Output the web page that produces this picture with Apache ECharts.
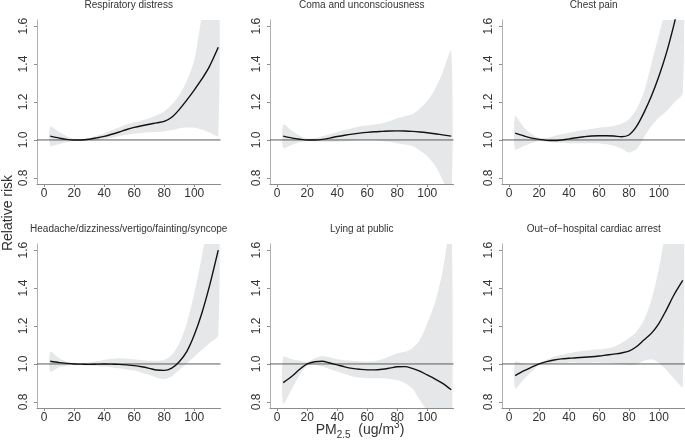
<!DOCTYPE html>
<html>
<head>
<meta charset="utf-8">
<script src="https://cdn.jsdelivr.net/npm/echarts@6/dist/echarts.min.js"></script>
<style>
html,body{margin:0;padding:0;background:#fff;}
#c{width:685px;height:445px;}
</style>
</head>
<body>
<div id="c"></div>
<script>
// ---- data ----
const pm25 = [4,10,15,20,25,30,35,40,45,50,55,60,65,70,75,80,85,90,95,100,105,110,116];
const panelTitles = ['Respiratory distress','Coma and unconsciousness','Chest pain',
  'Headache/dizziness/vertigo/fainting/syncope','Lying at public','Out\u2212of\u2212hospital cardiac arrest'];
const xTicks = [0,20,40,60,80,100];
const yTicks = [0.8,1.0,1.2,1.4,1.6];
const refRisk = 1.0;

const respFit  = [1.020,1.010,1.003,1.000,1.000,1.004,1.011,1.019,1.030,1.042,1.055,1.066,1.075,1.083,1.090,1.098,1.120,1.160,1.210,1.263,1.320,1.385,1.488];
const respHigh = [1.070,1.042,1.020,1.005,1.004,1.010,1.022,1.036,1.052,1.067,1.081,1.093,1.103,1.115,1.130,1.150,1.185,1.235,1.310,1.420,1.650,1.850,2.050];
const respLow  = [0.969,0.979,0.988,0.995,0.996,0.997,1.000,1.005,1.012,1.020,1.027,1.033,1.037,1.040,1.042,1.045,1.052,1.062,1.066,1.065,1.055,1.040,1.022];

const comaFit  = [1.020,1.010,1.004,1.000,1.000,1.003,1.010,1.018,1.025,1.031,1.036,1.040,1.043,1.045,1.047,1.048,1.047,1.045,1.042,1.038,1.033,1.027,1.020];
const comaHigh = [1.082,1.047,1.022,1.007,1.010,1.020,1.030,1.042,1.053,1.063,1.071,1.077,1.082,1.088,1.100,1.115,1.125,1.135,1.165,1.205,1.265,1.350,1.470];
const comaLow  = [0.958,0.975,0.988,0.995,0.993,0.990,0.990,0.991,0.993,0.996,0.998,1.000,0.999,0.995,0.990,0.983,0.976,0.968,0.945,0.916,0.868,0.795,0.700];

const chestFit  = [1.036,1.021,1.010,1.003,0.998,0.997,1.000,1.006,1.012,1.017,1.021,1.022,1.022,1.021,1.017,1.026,1.070,1.143,1.230,1.334,1.456,1.604,1.800];
const chestHigh = [1.125,1.064,1.032,1.012,1.012,1.021,1.030,1.038,1.046,1.052,1.058,1.064,1.068,1.073,1.085,1.108,1.160,1.250,1.400,1.550,1.700,1.850,2.000];
const chestLow  = [0.951,0.969,0.984,0.995,0.990,0.986,0.984,0.983,0.983,0.983,0.983,0.983,0.978,0.969,0.955,0.934,0.951,1.012,1.073,1.117,1.151,1.195,1.247];

const headFit  = [1.014,1.007,1.003,1.000,0.999,0.998,0.999,1.000,0.999,0.998,0.995,0.991,0.985,0.977,0.968,0.966,0.978,1.012,1.065,1.152,1.266,1.406,1.600];
const headHigh = [1.065,1.030,1.012,1.003,1.004,1.008,1.014,1.021,1.027,1.030,1.028,1.025,1.020,1.017,1.017,1.021,1.047,1.108,1.213,1.371,1.564,1.780,2.000];
const headLow  = [0.960,0.983,0.991,0.995,0.993,0.990,0.988,0.986,0.982,0.977,0.971,0.965,0.954,0.942,0.928,0.921,0.934,0.969,1.003,1.038,1.073,1.108,1.152];

const lyingFit  = [0.902,0.937,0.972,1.000,1.012,1.014,1.005,0.995,0.985,0.977,0.972,0.969,0.969,0.972,0.978,0.985,0.986,0.977,0.962,0.942,0.922,0.899,0.864];
const lyingHigh = [1.035,1.025,1.018,1.010,1.030,1.042,1.035,1.025,1.020,1.017,1.014,1.012,1.015,1.025,1.040,1.056,1.065,1.082,1.126,1.213,1.318,1.476,1.750];
const lyingLow  = [0.790,0.872,0.942,0.990,0.995,0.986,0.973,0.960,0.947,0.934,0.928,0.925,0.925,0.925,0.921,0.916,0.900,0.872,0.811,0.750,0.680,0.600,0.500];

const ohcaFit  = [0.939,0.965,0.983,1.000,1.012,1.021,1.027,1.030,1.033,1.035,1.038,1.042,1.047,1.052,1.058,1.068,1.091,1.126,1.161,1.213,1.284,1.362,1.440];
const ohcaHigh = [1.012,0.998,1.000,1.007,1.022,1.038,1.048,1.056,1.064,1.070,1.074,1.077,1.082,1.091,1.110,1.135,1.170,1.230,1.336,1.500,1.720,1.900,2.100];
const ohcaLow  = [0.872,0.920,0.960,0.995,1.000,1.003,1.005,1.007,1.007,1.007,1.007,1.007,1.006,1.003,0.998,0.993,0.998,1.017,1.025,1.007,0.969,0.925,0.881];

const fits  = [respFit, comaFit, chestFit, headFit, lyingFit, ohcaFit];
const highs = [respHigh, comaHigh, chestHigh, headHigh, lyingHigh, ohcaHigh];
const lows  = [respLow, comaLow, chestLow, headLow, lyingLow, ohcaLow];

// ---- layout ----
const X_MIN = -4.8, X_MAX = 117.5, Y_MIN = 0.768, Y_MAX = 1.632;
const colLeft = [37, 270, 502];
const rowTop = [20, 244];
const PW = 183.5, PH = 164;
const FONT = "'Liberation Sans', Arial, Helvetica, sans-serif";
const TXT = '#333';
const AXC = '#8c8c8c';

function bandRenderer(low, high) {
  return function (params, api) {
    if (params.dataIndex !== 0) return null;
    const pts = [];
    for (let k = 0; k < pm25.length; k++) pts.push(api.coord([pm25[k], high[k]]));
    for (let k = pm25.length - 1; k >= 0; k--) pts.push(api.coord([pm25[k], low[k]]));
    const cs = params.coordSys;
    return {
      type: 'polygon',
      shape: {points: pts, smooth: 0.25},
      style: {fill: '#e6e7e8', stroke: null},
      clipPath: {type: 'rect', shape: {x: cs.x, y: cs.y, width: cs.width, height: cs.height}}
    };
  };
}

const grids = [], xAxes = [], yAxes = [], series = [], graphics = [];
for (let i = 0; i < 6; i++) {
  const r = Math.floor(i / 3), c = i % 3;
  grids.push({left: colLeft[c], top: rowTop[r], width: PW, height: PH, containLabel: false});
  xAxes.push({
    type: 'value', gridIndex: i, min: X_MIN, max: X_MAX,
    splitLine: {show: false},
    axisLine: {show: true, onZero: false, lineStyle: {color: AXC, width: 1}},
    axisTick: {show: true, length: 3, customValues: xTicks, lineStyle: {color: AXC}},
    axisLabel: {show: true, customValues: xTicks, margin: 4, fontSize: 12, color: TXT, fontFamily: FONT}
  });
  yAxes.push({
    type: 'value', gridIndex: i, min: Y_MIN, max: Y_MAX,
    splitLine: {show: false},
    axisLine: {show: true, onZero: false, lineStyle: {color: '#b0b0b0', width: 1}},
    axisTick: {show: true, length: 3, customValues: yTicks, lineStyle: {color: AXC}},
    axisLabel: {show: true, customValues: yTicks, rotate: 90, margin: 7, fontSize: 12, color: TXT, fontFamily: FONT,
      formatter: v => Number(v).toFixed(1)}
  });
  const low = lows[i], high = highs[i], fit = fits[i];
  series.push({
    type: 'custom', xAxisIndex: i, yAxisIndex: i, silent: true, z: 1,
    data: pm25.map((x, k) => [x, fit[k]]),
    renderItem: bandRenderer(low, high)
  });
  series.push({
    type: 'line', xAxisIndex: i, yAxisIndex: i, symbol: 'none',
    data: [[X_MIN, refRisk], [X_MAX, refRisk]], lineStyle: {color: '#5a5a5a', width: 1}, silent: true, z: 2
  });
  series.push({
    type: 'line', xAxisIndex: i, yAxisIndex: i, symbol: 'none', smooth: 0.3,
    data: pm25.map((x, k) => [x, fit[k]]), lineStyle: {color: '#111', width: 1.4}, silent: true, z: 3
  });
  graphics.push({
    type: 'text', x: colLeft[c] + PW / 2, y: r === 0 ? 5 : 229,
    style: {text: panelTitles[i], align: 'center', verticalAlign: 'middle', fill: TXT,
      font: '10px ' + FONT}
  });
}
graphics.push({
  type: 'text', x: 8, y: 213, rotation: Math.PI / 2,
  style: {text: 'Relative risk', align: 'center', verticalAlign: 'middle', fill: TXT, font: '14px ' + FONT}
});
graphics.push({
  type: 'text', x: 360, y: 430,
  style: {
    text: '{m|PM}{s|2.5}{m|  (ug/m}{p|3}{m|)}', align: 'center', verticalAlign: 'middle', fill: TXT,
    rich: {
      m: {fontSize: 14, lineHeight: 20, fontFamily: FONT, fill: TXT},
      s: {fontSize: 10, lineHeight: 10, verticalAlign: 'bottom', fontFamily: FONT, fill: TXT},
      p: {fontSize: 10, lineHeight: 10, verticalAlign: 'top', fontFamily: FONT, fill: TXT}
    }
  }
});

const chart = echarts.init(document.getElementById('c'), null, {renderer: 'canvas'});
chart.setOption({
  animation: false,
  backgroundColor: '#fff',
  grid: grids, xAxis: xAxes, yAxis: yAxes, series: series, graphic: graphics
});
</script>
</body>
</html>
